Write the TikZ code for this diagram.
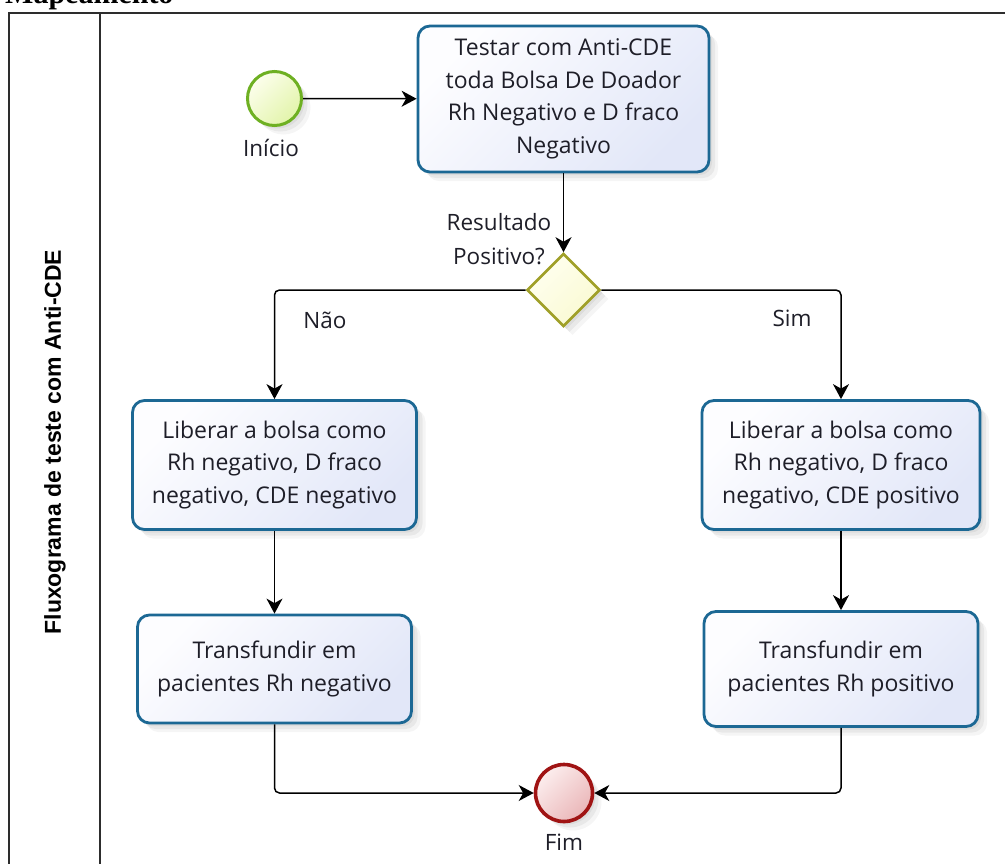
\documentclass[tikz,border=0pt]{standalone}
\usepackage{fontspec}
\setmainfont{Open Sans}
\newfontfamily\lanefont{Liberation Sans}
\newfontfamily\titlefont{Liberation Serif}
\usetikzlibrary{arrows.meta,shapes.geometric,shadows,backgrounds}
\definecolor{taskblue}{RGB}{28,104,148}
\definecolor{taskfillA}{RGB}{253,253,255}
\definecolor{taskfillB}{RGB}{226,231,248}
\definecolor{startgreen}{RGB}{110,176,34}
\definecolor{startA}{RGB}{252,254,236}
\definecolor{startB}{RGB}{226,244,170}
\definecolor{gateolive}{RGB}{160,160,40}
\definecolor{gatefillA}{RGB}{255,255,240}
\definecolor{gatefillB}{RGB}{250,250,210}
\definecolor{endred}{RGB}{160,20,20}
\definecolor{endA}{RGB}{252,238,238}
\definecolor{endB}{RGB}{234,182,184}
\definecolor{txt}{RGB}{30,30,40}
\definecolor{framec}{RGB}{45,45,45}
\tikzset{
  softshadow/.style={
    general shadow={fill=black, opacity=0.05, shadow xshift=3pt, shadow yshift=-3pt},
    general shadow={fill=black, opacity=0.05, shadow xshift=6pt, shadow yshift=-6pt},
    general shadow={fill=black, opacity=0.04, shadow xshift=9pt, shadow yshift=-9pt}},
  task/.style={draw=taskblue, line width=2.8pt, rounded corners=12pt, align=center,
    inner sep=0pt, text=txt, font=\fontsize{23}{32.5}\selectfont,
    shading=axis, top color=taskfillA, bottom color=taskfillB, shading angle=45, softshadow},
  startev/.style={circle, draw=startgreen, line width=3pt, minimum size=54pt, inner sep=0pt,
    shading=axis, top color=startA, bottom color=startB, shading angle=45, softshadow},
  endev/.style={circle, draw=endred, line width=3.6pt, minimum size=57pt, inner sep=0pt,
    shading=axis, top color=endA, bottom color=endB, shading angle=45, softshadow},
  gateway/.style={diamond, draw=gateolive, line width=2.6pt, minimum width=73pt, minimum height=73pt,
    aspect=1, inner sep=0pt, shading=axis, top color=gatefillA, bottom color=gatefillB,
    shading angle=45, softshadow},
  lbl/.style={text=txt, font=\fontsize{22.5}{34}\selectfont, align=center, inner sep=0pt},
  flow/.style={draw=black, line width=1.5pt, rounded corners=5pt,
    -{Stealth[length=15pt,width=16pt,inset=4.5pt]}},
  flowshadow/.style={draw=black!7, line width=1.6pt, rounded corners=5pt,
    -{Stealth[length=15pt,width=16pt,inset=4.5pt]}},
  frame/.style={draw=framec, line width=2pt}
}
\begin{document}
\begin{tikzpicture}[x=1pt,y=-1pt]
\useasboundingbox (0,0) rectangle (1005,863);
\clip (0,0) rectangle (1005,863);
\fill[white] (0,0) rectangle (1005,863);

% title (cut at top)
\node[anchor=base west, inner sep=0pt, font=\titlefont\bfseries\fontsize{30}{30}\selectfont] (title) at (5,3) {Mapeamento};

% frame
\draw[frame] (9,880) -- (9,13) -- (1020,13);
\draw[frame] (100,13) -- (100,880);
\node[rotate=90, inner sep=0pt, font=\lanefont\bfseries\fontsize{23}{26}\selectfont] (lane) at (55,442) {Fluxograma de teste com Anti-CDE};

% nodes
\node[startev] (start) at (274.5,98.5) {};
\node[lbl, anchor=north] (inicio) at (271,139) {Início};
\node[task, minimum width=291pt, minimum height=146pt] (t1) at (563.5,99)
  {Testar com Anti-CDE\\toda Bolsa De Doador\\Rh Negativo e D fraco\\Negativo};
\node[gateway] (gw) at (563.5,290) {};
\node[lbl] (q) at (499,239) {Resultado\\Positivo?};
\node[task, minimum width=284pt, minimum height=129pt] (l1) at (274.5,465)
  {Liberar a bolsa como\\Rh negativo, D fraco\\negativo, CDE negativo};
\node[task, minimum width=274pt, minimum height=108pt] (l2) at (274.5,669)
  {Transfundir em\\pacientes Rh negativo};
\node[task, minimum width=278pt, minimum height=129pt] (r1) at (841,465)
  {Liberar a bolsa como\\Rh negativo, D fraco\\negativo, CDE positivo};
\node[task, minimum width=274pt, minimum height=115pt] (r2) at (841,669)
  {Transfundir em\\pacientes Rh positivo};
\node[endev] (fim) at (564,793) {};
\node[lbl, anchor=north] (fimlbl) at (564,834) {Fim};
\node[lbl] (nao) at (325,320) {Não};
\node[lbl] (sim) at (792,318) {Sim};

% faint connector shadows
\begin{scope}[on background layer, transform canvas={shift={(16pt,-16pt)}}]
  \draw[flowshadow] (start) -- (t1);
  \draw[flowshadow] (t1) -- (gw);
  \draw[flowshadow] (gw.west) -| (l1.north);
  \draw[flowshadow] (gw.east) -| (r1.north);
  \draw[flowshadow] (l1) -- (l2);
  \draw[flowshadow] (r1) -- (r2);
  \draw[flowshadow] (l2.south) |- (fim.west);
  \draw[flowshadow] (r2.south) |- (fim.east);
\end{scope}

% connectors
\draw[flow] (start) -- (t1);
\draw[flow] (t1) -- (gw);
\draw[flow] (gw.west) -| (l1.north);
\draw[flow] (gw.east) -| (r1.north);
\draw[flow] (l1) -- (l2);
\draw[flow] (r1) -- (r2);
\draw[flow] (l2.south) |- (fim.west);
\draw[flow] (r2.south) |- (fim.east);
\end{tikzpicture}
\end{document}
